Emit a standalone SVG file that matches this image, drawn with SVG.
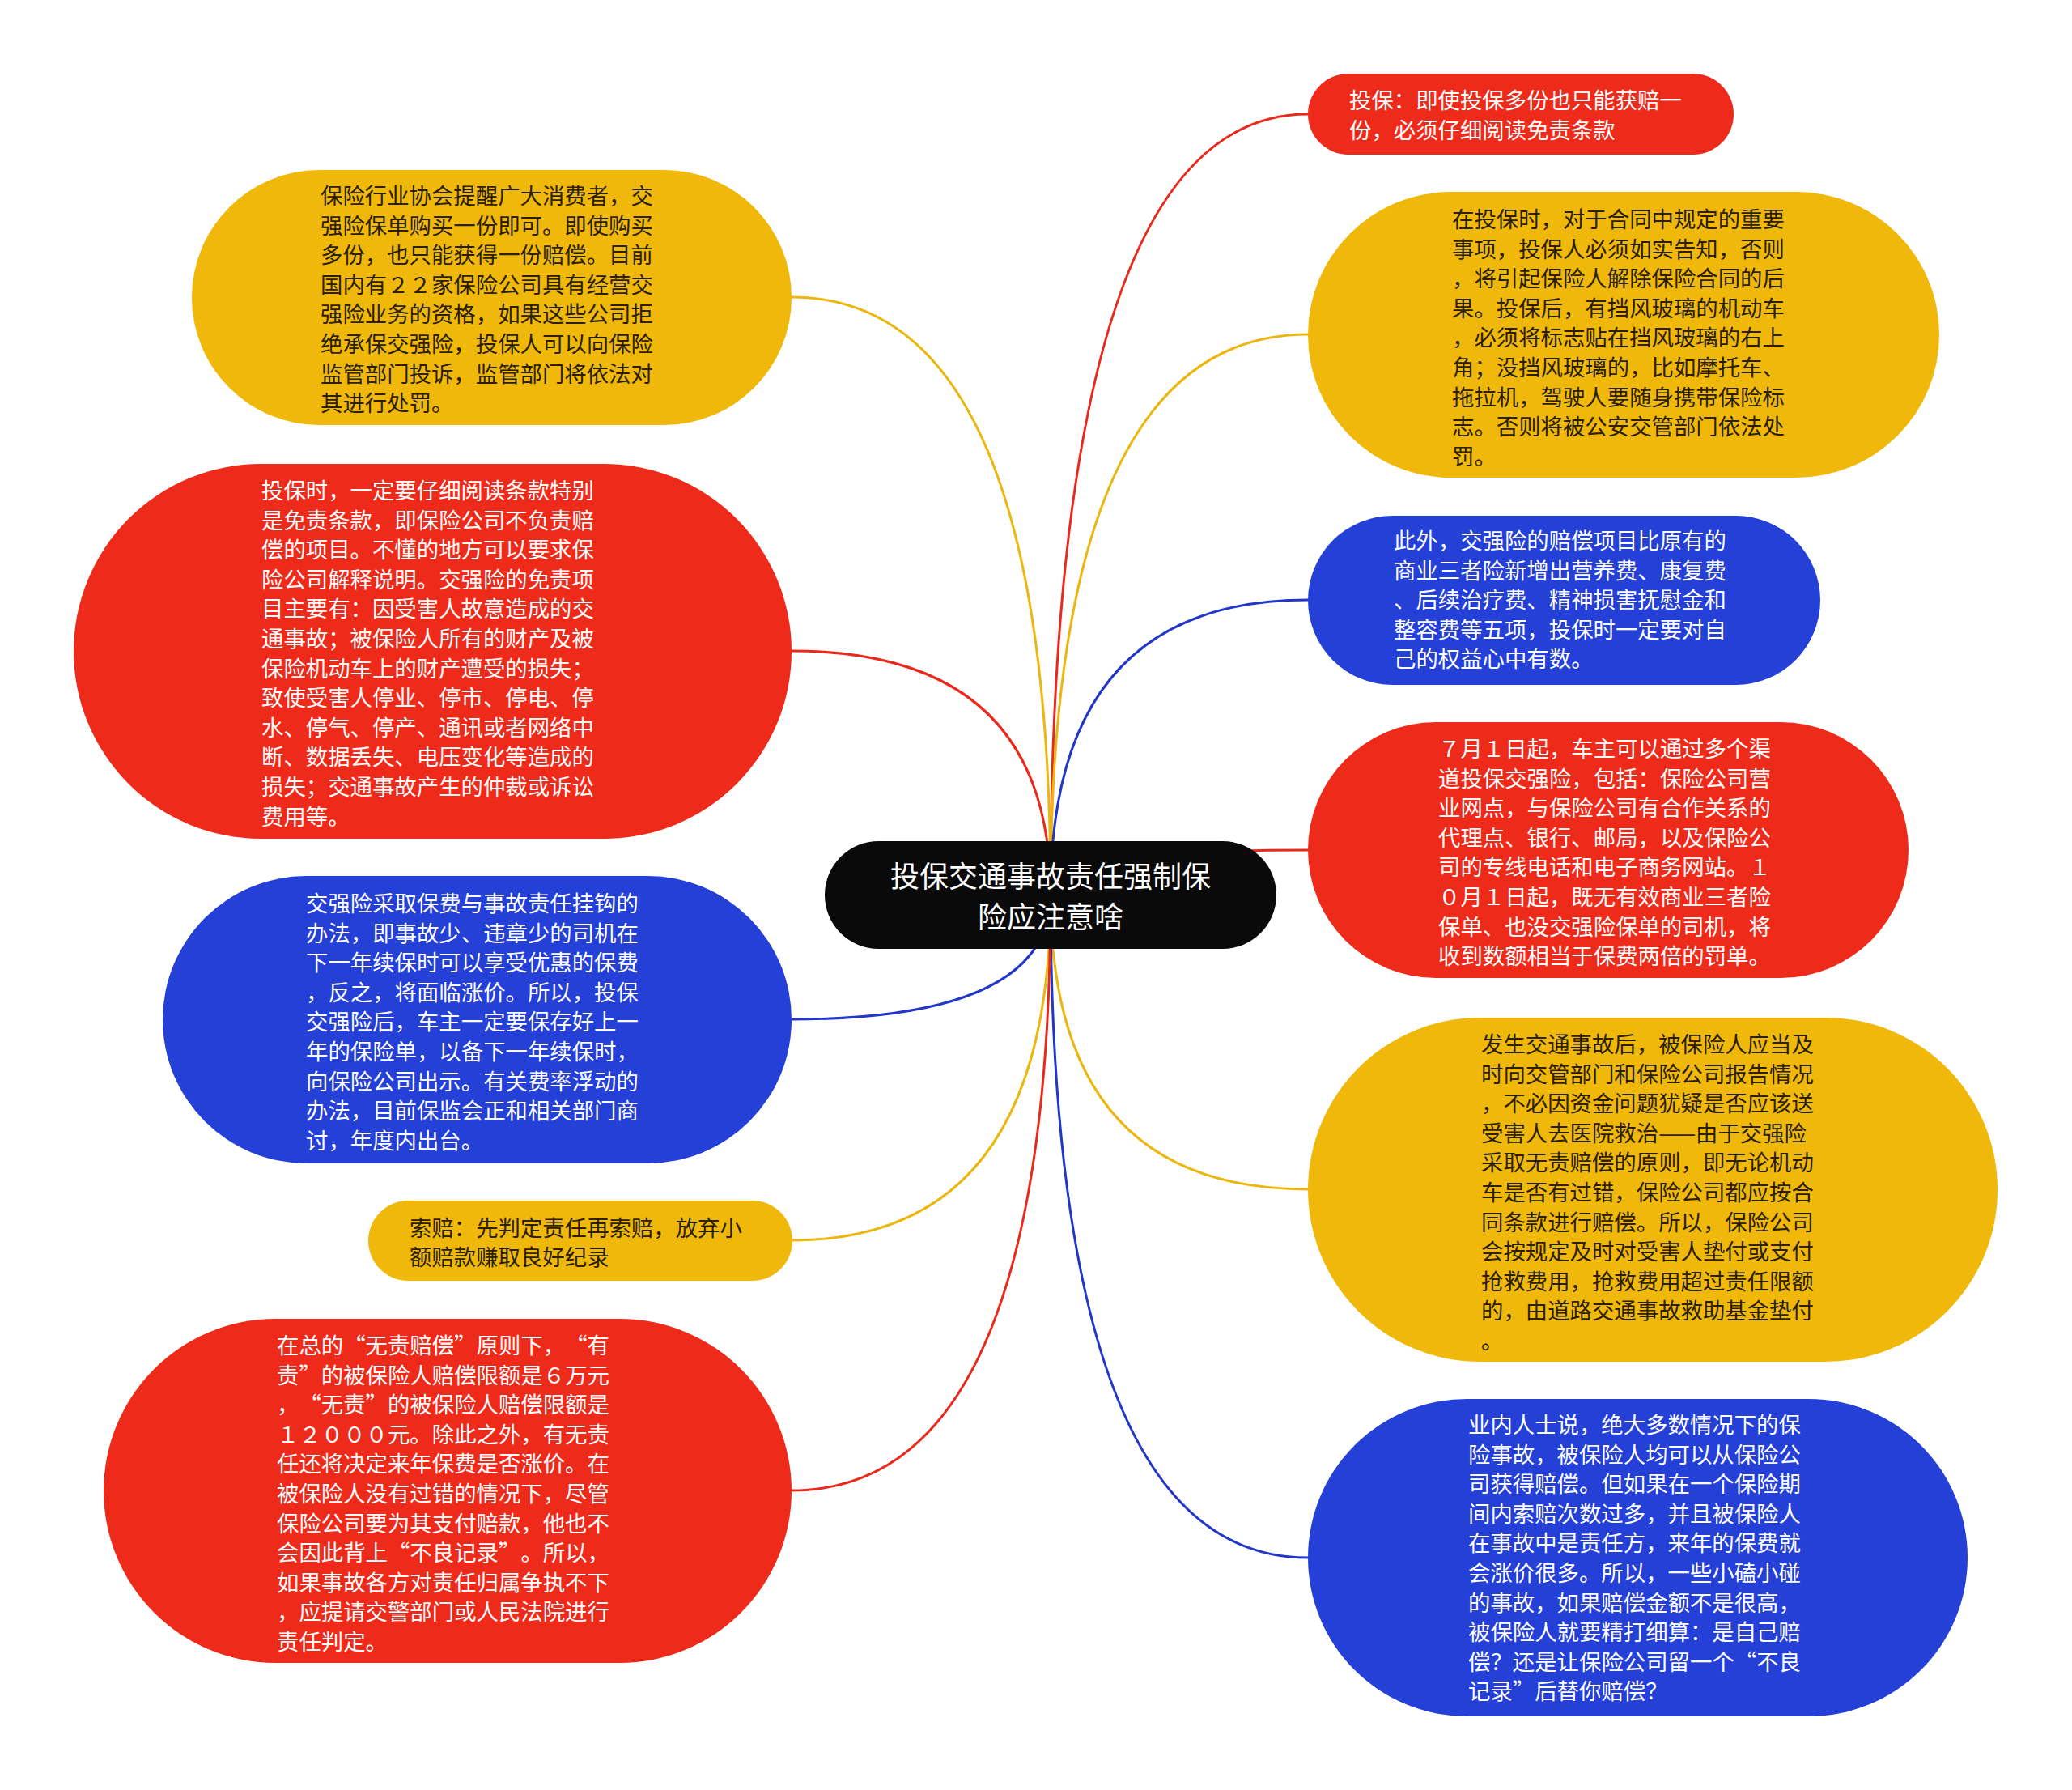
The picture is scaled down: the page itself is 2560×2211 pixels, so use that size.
<svg xmlns="http://www.w3.org/2000/svg" width="2560" height="2211" viewBox="0 0 2560 2211">
<style>
.red{fill:#EE2A1B}
.yel{fill:#EFB80B}
.blu{fill:#2540D6}
.ctr{fill:#0A0A0A}
.t{font-family:"Noto Sans CJK SC","Liberation Sans",sans-serif;font-size:27.4px}
.tw{fill:#FFFFFF}
.td{fill:#2A2000}
.tc{font-family:"Noto Sans CJK SC","Liberation Sans",sans-serif;font-size:36px;fill:#FFFFFF;text-anchor:middle}
.c{fill:none;stroke-width:3}
.cr{stroke:#E8291B}
.cy{stroke:#EBB60E}
.cb{stroke:#2237C8}
</style>
<rect width="2560" height="2211" fill="#FFFFFF"/>
<g id="connectors">
<path class="c cr" d="M1298 1105 Q1298 141 1616 141"/>
<path class="c cy" d="M1298 1105 Q1298 413 1616 413"/>
<path class="c cb" d="M1298 1105 Q1298 741 1616 741"/>
<path class="c cr" d="M1298 1105 Q1298 1050 1616 1050"/>
<path class="c cy" d="M1298 1105 Q1298 1469 1616 1469"/>
<path class="c cb" d="M1298 1105 Q1298 1924 1616 1924"/>
<path class="c cy" d="M1298 1105 Q1298 367 978 367"/>
<path class="c cr" d="M1298 1105 Q1298 804 978 804"/>
<path class="c cb" d="M1298 1105 Q1298 1259 978 1259"/>
<path class="c cy" d="M1298 1105 Q1298 1532 978 1532"/>
<path class="c cr" d="M1298 1105 Q1298 1841 978 1841"/>
</g>
<g id="center">
<rect class="ctr" x="1019" y="1039" width="558" height="133" rx="66.5"/>
<text class="tc"><tspan x="1298" y="1096">投保交通事故责任强制保</tspan><tspan x="1298" y="1146">险应注意啥</tspan></text>
</g>
<g id="r1">
<rect class="red" x="1616" y="91" width="526" height="100" rx="50"/>
<text class="t tw"><tspan x="1667" y="134">投保：即使投保多份也只能获赔一</tspan><tspan x="1667" y="171">份，必须仔细阅读免责条款</tspan></text>
</g>
<g id="r2">
<rect class="yel" x="1616" y="237" width="780" height="353" rx="176.5"/>
<text class="t td"><tspan x="1794" y="281">在投保时，对于合同中规定的重要</tspan><tspan x="1794" y="317.6">事项，投保人必须如实告知，否则</tspan><tspan x="1794" y="354.2">，将引起保险人解除保险合同的后</tspan><tspan x="1794" y="390.8">果。投保后，有挡风玻璃的机动车</tspan><tspan x="1794" y="427.4">，必须将标志贴在挡风玻璃的右上</tspan><tspan x="1794" y="464">角；没挡风玻璃的，比如摩托车、</tspan><tspan x="1794" y="500.6">拖拉机，驾驶人要随身携带保险标</tspan><tspan x="1794" y="537.2">志。否则将被公安交管部门依法处</tspan><tspan x="1794" y="573.8">罚。</tspan></text>
</g>
<g id="r3">
<rect class="blu" x="1616" y="637" width="633" height="209" rx="104.5"/>
<text class="t tw"><tspan x="1722" y="678">此外，交强险的赔偿项目比原有的</tspan><tspan x="1722" y="714.6">商业三者险新增出营养费、康复费</tspan><tspan x="1722" y="751.2">、后续治疗费、精神损害抚慰金和</tspan><tspan x="1722" y="787.8">整容费等五项，投保时一定要对自</tspan><tspan x="1722" y="824.4">己的权益心中有数。</tspan></text>
</g>
<g id="r4">
<rect class="red" x="1616" y="892" width="742" height="316" rx="158"/>
<text class="t tw"><tspan x="1777" y="935">７月１日起，车主可以通过多个渠</tspan><tspan x="1777" y="971.6">道投保交强险，包括：保险公司营</tspan><tspan x="1777" y="1008.2">业网点，与保险公司有合作关系的</tspan><tspan x="1777" y="1044.8">代理点、银行、邮局，以及保险公</tspan><tspan x="1777" y="1081.4">司的专线电话和电子商务网站。１</tspan><tspan x="1777" y="1118">０月１日起，既无有效商业三者险</tspan><tspan x="1777" y="1154.6">保单、也没交强险保单的司机，将</tspan><tspan x="1777" y="1191.2">收到数额相当于保费两倍的罚单。</tspan></text>
</g>
<g id="r5">
<rect class="yel" x="1616" y="1257" width="852" height="425" rx="212.5"/>
<text class="t td"><tspan x="1830" y="1300">发生交通事故后，被保险人应当及</tspan><tspan x="1830" y="1336.6">时向交管部门和保险公司报告情况</tspan><tspan x="1830" y="1373.2">，不必因资金问题犹疑是否应该送</tspan><tspan x="1830" y="1409.8">受害人去医院救治——由于交强险</tspan><tspan x="1830" y="1446.4">采取无责赔偿的原则，即无论机动</tspan><tspan x="1830" y="1483">车是否有过错，保险公司都应按合</tspan><tspan x="1830" y="1519.6">同条款进行赔偿。所以，保险公司</tspan><tspan x="1830" y="1556.2">会按规定及时对受害人垫付或支付</tspan><tspan x="1830" y="1592.8">抢救费用，抢救费用超过责任限额</tspan><tspan x="1830" y="1629.4">的，由道路交通事故救助基金垫付</tspan><tspan x="1830" y="1666">。</tspan></text>
</g>
<g id="r6">
<rect class="blu" x="1616" y="1728" width="815" height="392" rx="196"/>
<text class="t tw"><tspan x="1814" y="1770">业内人士说，绝大多数情况下的保</tspan><tspan x="1814" y="1806.6">险事故，被保险人均可以从保险公</tspan><tspan x="1814" y="1843.2">司获得赔偿。但如果在一个保险期</tspan><tspan x="1814" y="1879.8">间内索赔次数过多，并且被保险人</tspan><tspan x="1814" y="1916.4">在事故中是责任方，来年的保费就</tspan><tspan x="1814" y="1953">会涨价很多。所以，一些小磕小碰</tspan><tspan x="1814" y="1989.6">的事故，如果赔偿金额不是很高，</tspan><tspan x="1814" y="2026.2">被保险人就要精打细算：是自己赔</tspan><tspan x="1814 1841.4 1868.8 1896.2 1923.6 1951 1978.4 2005.8 2033.2 2060.6 2088 2115.4 2142.8 2170.2 2197.6" y="2062.8">偿？还是让保险公司留一个“不良</tspan><tspan x="1814 1841.4 1868.8 1896.2 1923.6 1951 1978.4 2005.8 2033.2" y="2099.4">记录”后替你赔偿？</tspan></text>
</g>
<g id="l1">
<rect class="yel" x="237" y="210" width="741" height="315" rx="157.5"/>
<text class="t td"><tspan x="396" y="252">保险行业协会提醒广大消费者，交</tspan><tspan x="396" y="288.6">强险保单购买一份即可。即使购买</tspan><tspan x="396" y="325.2">多份，也只能获得一份赔偿。目前</tspan><tspan x="396" y="361.8">国内有２２家保险公司具有经营交</tspan><tspan x="396" y="398.4">强险业务的资格，如果这些公司拒</tspan><tspan x="396" y="435">绝承保交强险，投保人可以向保险</tspan><tspan x="396" y="471.6">监管部门投诉，监管部门将依法对</tspan><tspan x="396" y="508.2">其进行处罚。</tspan></text>
</g>
<g id="l2">
<rect class="red" x="91" y="573" width="887" height="463" rx="231.5"/>
<text class="t tw"><tspan x="323" y="616">投保时，一定要仔细阅读条款特别</tspan><tspan x="323" y="652.6">是免责条款，即保险公司不负责赔</tspan><tspan x="323" y="689.2">偿的项目。不懂的地方可以要求保</tspan><tspan x="323" y="725.8">险公司解释说明。交强险的免责项</tspan><tspan x="323" y="762.4">目主要有：因受害人故意造成的交</tspan><tspan x="323" y="799">通事故；被保险人所有的财产及被</tspan><tspan x="323" y="835.6">保险机动车上的财产遭受的损失；</tspan><tspan x="323" y="872.2">致使受害人停业、停市、停电、停</tspan><tspan x="323" y="908.8">水、停气、停产、通讯或者网络中</tspan><tspan x="323" y="945.4">断、数据丢失、电压变化等造成的</tspan><tspan x="323" y="982">损失；交通事故产生的仲裁或诉讼</tspan><tspan x="323" y="1018.6">费用等。</tspan></text>
</g>
<g id="l3">
<rect class="blu" x="201" y="1082" width="777" height="355" rx="177.5"/>
<text class="t tw"><tspan x="378" y="1126">交强险采取保费与事故责任挂钩的</tspan><tspan x="378" y="1162.6">办法，即事故少、违章少的司机在</tspan><tspan x="378" y="1199.2">下一年续保时可以享受优惠的保费</tspan><tspan x="378" y="1235.8">，反之，将面临涨价。所以，投保</tspan><tspan x="378" y="1272.4">交强险后，车主一定要保存好上一</tspan><tspan x="378" y="1309">年的保险单，以备下一年续保时，</tspan><tspan x="378" y="1345.6">向保险公司出示。有关费率浮动的</tspan><tspan x="378" y="1382.2">办法，目前保监会正和相关部门商</tspan><tspan x="378" y="1418.8">讨，年度内出台。</tspan></text>
</g>
<g id="l4">
<rect class="yel" x="455" y="1483" width="524" height="99" rx="49.5"/>
<text class="t td"><tspan x="506" y="1527">索赔：先判定责任再索赔，放弃小</tspan><tspan x="506" y="1563">额赔款赚取良好纪录</tspan></text>
</g>
<g id="l5">
<rect class="red" x="128" y="1629" width="850" height="425" rx="212.5"/>
<text class="t tw"><tspan x="342 369.4 396.8 424.2 451.6 479 506.4 533.8 561.2 588.6 616 643.4 670.8 698.2 725.6" y="1672">在总的“无责赔偿”原则下，“有</tspan><tspan x="342 369.4 396.8 424.2 451.6 479 506.4 533.8 561.2 588.6 616 643.4 670.8 698.2 725.6" y="1708.6">责”的被保险人赔偿限额是６万元</tspan><tspan x="342 369.4 396.8 424.2 451.6 479 506.4 533.8 561.2 588.6 616 643.4 670.8 698.2 725.6" y="1745.2">，“无责”的被保险人赔偿限额是</tspan><tspan x="342" y="1781.8">１２０００元。除此之外，有无责</tspan><tspan x="342" y="1818.4">任还将决定来年保费是否涨价。在</tspan><tspan x="342" y="1855">被保险人没有过错的情况下，尽管</tspan><tspan x="342" y="1891.6">保险公司要为其支付赔款，他也不</tspan><tspan x="342 369.4 396.8 424.2 451.6 479 506.4 533.8 561.2 588.6 616 643.4 670.8 698.2 725.6" y="1928.2">会因此背上“不良记录”。所以，</tspan><tspan x="342" y="1964.8">如果事故各方对责任归属争执不下</tspan><tspan x="342" y="2001.4">，应提请交警部门或人民法院进行</tspan><tspan x="342" y="2038">责任判定。</tspan></text>
</g>
</svg>
